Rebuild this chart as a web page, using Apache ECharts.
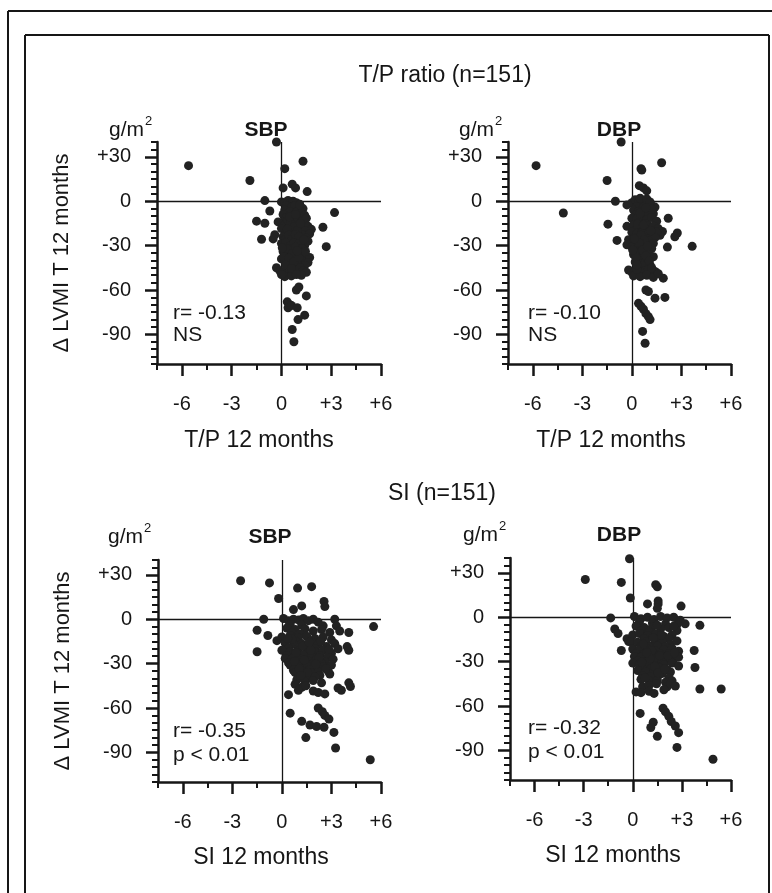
<!DOCTYPE html>
<html>
<head>
<meta charset="utf-8">
<script src="https://cdn.jsdelivr.net/npm/echarts@6/dist/echarts.min.js"></script>
<style>
  html, body { margin: 0; padding: 0; background: #fff; }
  #chart { width: 772px; height: 893px; }
</style>
</head>
<body>
<div id="chart"></div>
<script>
// Change in LVMI (g/m2) over 12 months against change in T/P ratio and SI
// Each entry: [x change, delta LVMI]

const tpSbp = [
  [-5.6,24],[-1.9,14],[-0.3,40],[1.3,27],[0.2,22],[0.1,9],[0.65,11.5],[0.85,9],[1.55,6.5],[-1.0,0.4],
  [-0.7,-6.6],[3.2,-7.7],[-1.5,-13.5],[-1.0,-14.9],[-1.2,-25.7],[2.5,-17.6],[2.7,-30.7],[0.9,-60],[1.05,-58],[1.5,-64],
  [0.35,-68],[0.5,-70],[0.4,-72],[0.6,-70.5],[0.95,-72],[1.4,-77],[1.0,-80],[0.65,-86.7],[0.75,-95],
  [0,-0.5],[0.2,-1],[0.4,0.5],[0.5,-1.5],[0.7,0],[0.9,-1],[1.1,-2],[0.3,-3],[0.6,-4],[1.0,-4.5],[1.3,-5],[0.8,-3],
  [0.2,-6],[0.5,-7],[0.9,-7.5],[1.2,-8],[1.4,-9.5],[0.1,-9],[0.7,-10],
  [0.3,-11],[0.6,-12],[1.0,-12.5],[1.3,-13],[1.5,-11.5],[0.1,-14],[0.8,-14.5],[-0.2,-14],
  [0.2,-16],[0.5,-17],[0.9,-16.5],[1.2,-18],[1.6,-17],[1.8,-19],[0.0,-18.5],[0.7,-19.5],[1.4,-20],
  [0.3,-21],[0.6,-22],[1.0,-21.5],[1.3,-23],[1.7,-22],[-0.4,-22.7],[0.1,-24],[0.8,-24.5],[1.5,-25],
  [0.2,-26],[0.5,-27],[0.9,-26.5],[1.2,-28],[1.6,-27],[-0.5,-25.5],[0.0,-28.5],[0.7,-29.5],[1.4,-30],
  [0.3,-31],[0.6,-32],[1.0,-31.5],[1.3,-33],[0.1,-34],[0.8,-34.5],[0.4,-35],[1.1,-35.5],
  [0.2,-36],[0.5,-37],[0.9,-37.5],[1.4,-37],[1.7,-38],[0.0,-39],[0.6,-39.5],[1.2,-40],[1.6,-41.5],
  [0.3,-41],[0.8,-42],[1.0,-43],[1.4,-43.5],[0.5,-44],
  [-0.3,-45],[-0.1,-47],[0.1,-48],[0.3,-49],[0.5,-48],[0.7,-47.5],[0.9,-46],[1.1,-45],[1.3,-47],[1.5,-48],
  [0.2,-51],[0.6,-50.5],[1.2,-50],[0.0,-49.5],
  [0.4,-13],[0.55,-15],[0.75,-17.5],[0.35,-19],[0.95,-20],[0.45,-23],[0.65,-25.5],[0.85,-22.5],[1.05,-24],[0.25,-28],
  [0.55,-30],[0.75,-28],[1.05,-29],[0.35,-32.5],[0.65,-35.5],[0.85,-31],[0.15,-37.5],[0.45,-38.5],[0.75,-41],[1.05,-38],
  [0.25,-43],[1.25,-32],[1.45,-34],[0.95,-33.5],[0.5,-10.5],[0.85,-9],[1.15,-15],[1.35,-26],[0.05,-31.5],[0.6,-45.5],
  [0.9,-49.5],[1.1,-2.5]
];

const tpDbp = [
  [-5.8,24],[-0.65,40],[1.8,26],[0.55,22],[0.6,21],[-1.5,14],[0.45,10.5],[0.7,9],[0.9,7],[-1.0,0],
  [-4.15,-8],[-1.45,-15.5],[-0.9,-26.5],[3.65,-30.5],[2.75,-21.5],[2.6,-24],[2.15,-31],[2.2,-11.5],[1.85,-20.5],[1.7,-23],
  [1.9,-52],[2.0,-65],[1.4,-65.5],[1.0,-61],[0.85,-60],[1.5,-48.5],[0.4,-69],[0.55,-71],[0.7,-73],[0.85,-76],
  [1.0,-78],[1.1,-80],[0.65,-88],[0.8,-96],
  [-0.3,-2.5],[0.0,-1],[0.2,1],[0.4,-0.5],[0.6,0.5],[0.8,-1],[1.0,-2],[1.2,-3],[1.4,-4],[0.3,-3.5],[0.7,-4],[0.5,2],[0.9,1.5],[1.1,-0.5],
  [0.1,-6],[0.4,-7],[0.7,-6.5],[1.0,-7.5],[1.3,-8.5],[0.2,-9.5],[0.6,-10],[0.9,-9],[1.2,-5.5],
  [0.0,-11.5],[0.3,-12],[0.6,-13],[0.9,-12.5],[1.2,-11],[1.5,-13.5],[0.4,-14.5],[0.8,-15],
  [-0.3,-17],[0.1,-16],[0.4,-17.5],[0.7,-18],[1.0,-16.5],[1.3,-17],[1.6,-18.5],[0.2,-19.5],[0.6,-20],[0.9,-19.5],
  [0.0,-21],[0.3,-22],[0.6,-21.5],[0.9,-23],[1.2,-22],[1.5,-21],[0.2,-24.5],[0.5,-25],[0.8,-24],[1.1,-25],[1.4,-24.5],
  [-0.2,-26],[0.1,-27],[0.4,-26.5],[0.7,-28],[1.0,-27],[1.3,-28.5],[0.2,-29.5],[0.5,-30],[0.8,-29],[-0.3,-29.5],
  [0.0,-31],[0.3,-32],[0.6,-31.5],[0.9,-33],[1.2,-32],[0.2,-34.5],[0.5,-35],[0.8,-34],[1.0,-35.5],
  [0.1,-36],[0.4,-37],[0.7,-36.5],[1.0,-38],[1.3,-37.5],[0.3,-39.5],[0.6,-40],[0.9,-39],
  [0.2,-41],[0.5,-42],[0.8,-41.5],[1.1,-43],[0.4,-44.5],[0.7,-44],
  [-0.2,-46.5],[0.0,-48],[0.2,-47],[0.4,-49],[0.6,-48],[0.8,-47],[1.0,-46],[1.2,-48],[1.4,-47.5],[0.1,-50.5],
  [0.5,-51],[0.9,-50],[1.3,-51.5],[1.6,-49],[0.3,-46],
  [0.35,-15.5],[0.55,-23],[0.75,-26],[0.45,-28],[0.65,-33],[0.85,-37],[0.25,-38],[0.15,-25.5],[0.95,-30.5],[1.15,-20],
  [0.05,-33],[0.7,-16],[0.5,-8],[0.85,-4.5],[1.05,-40.5],[0.3,-43],[1.2,-45]
];

const siSbp = [
  [0.1,40.5],[-2.5,26],[-0.75,24.5],[-0.2,14],[0.95,21],[1.8,22],[1.2,9],[0.7,6.5],[2.55,12],[2.6,8.5],
  [-1.1,0],[-1.5,-7.5],[-0.85,-11],[-1.5,-22],[5.55,-5],[4.05,-9],[3.95,-18.5],[4.05,-21],[4.05,-43],[4.15,-45.5],
  [3.4,-46.5],[3.6,-48],[0.4,-51],[0.5,-63.5],[1.2,-69],[1.7,-71.5],[2.2,-60],[2.45,-62.5],[2.6,-65],[2.85,-67.5],
  [2.1,-72.5],[2.55,-73],[1.45,-80],[3.15,-76.5],[3.25,-87],[5.35,-95],
  [0.1,0.5],[0.4,-1],[0.7,0],[1.0,-0.5],[1.3,0.5],[1.6,-1],[1.9,0],[2.2,-2],[3.2,0],[3.3,-4.5],[0.5,-3.5],[1.2,-4],[2.5,-4.5],
  [0.3,-6],[0.8,-7],[1.4,-6.5],[1.9,-8],[2.4,-7],[2.9,-9],[0.6,-9.5],[1.1,-10],[3.5,-8],
  [0.0,-12],[0.5,-11],[1.0,-12.5],[1.5,-11.5],[2.0,-13],[2.5,-12],[3.0,-14],[0.8,-14.5],[1.8,-15],[-0.3,-14.5],
  [0.2,-16],[0.7,-17],[1.2,-16.5],[1.7,-18],[2.2,-17],[2.7,-18.5],[3.2,-16.5],[0.4,-19.5],[1.0,-20],[1.5,-19.5],[2.0,-20],[3.4,-20],
  [0.0,-21],[0.5,-22],[1.0,-21.5],[1.5,-23],[2.0,-22],[2.5,-21],[3.0,-23],[0.3,-24.5],[0.8,-25],[1.3,-24],[1.8,-25],[2.3,-24.5],[2.8,-25],
  [0.2,-26.5],[0.6,-27],[1.1,-26.5],[1.6,-28],[2.1,-27],[2.6,-28.5],[3.1,-27],[0.4,-29.5],[0.9,-30],[1.4,-29],[1.9,-30],[2.4,-29.5],
  [0.5,-31],[1.0,-32],[1.5,-31.5],[2.0,-33],[2.5,-32],[3.0,-31],[0.7,-34.5],[1.2,-35],[1.7,-34],[2.2,-35.5],[2.8,-35],
  [0.8,-36],[1.3,-37],[1.8,-36.5],[2.3,-38],[2.9,-37],[1.0,-39.5],[1.5,-40],[2.0,-39],
  [0.9,-41],[1.4,-42],[1.9,-41.5],[0.8,-44],[1.2,-46],[1.0,-48],[2.4,-43],[1.9,-48.5],[2.2,-49.5],[2.6,-50.5],
  [0.6,-13.5],[1.25,-18],[1.75,-21],[2.25,-26],[1.35,-27.5],[0.85,-22.5],[1.05,-33.5],[1.55,-36],[2.05,-30.5],[0.75,-28.5],
  [1.65,-15.5],[1.15,-38],[2.65,-33.5],[0.35,-13],[2.85,-20.5],[1.45,-45],[2.35,-15]
];

const siDbp = [
  [-0.2,39.5],[-2.9,25.5],[-0.7,23.5],[-0.15,13],[1.4,22],[1.5,20.5],[1.55,11],[1.55,9],[0.9,9],[1.5,6],
  [2.95,7.5],[-1.35,-0.5],[-1.1,-8],[-0.9,-11],[-0.7,-22.5],[-0.35,-14.5],[-0.25,-16.5],[4.1,-5.5],[3.75,-22.5],[3.8,-34],
  [4.1,-48.5],[5.4,-48.5],[0.45,-65],[1.25,-71],[1.1,-74.5],[1.85,-61.5],[2.0,-64],[2.2,-67],[2.35,-70.5],[2.6,-73.5],
  [1.5,-80.5],[2.8,-78],[2.7,-88],[4.9,-96],
  [0.1,0.5],[0.5,-1],[0.9,0],[1.3,-1.5],[1.7,0.5],[2.1,-0.5],[2.5,0],[2.9,-2],[3.2,-4.5],[0.4,-3.5],[1.2,-4],[2.0,-4.5],[2.7,-5],
  [0.2,-6],[0.7,-7],[1.2,-6.5],[1.7,-8],[2.2,-7],[2.7,-9],[0.5,-9.5],[1.0,-10],[1.5,-5.5],[2.5,-6],
  [0.0,-12],[0.4,-11],[0.9,-12.5],[1.4,-11.5],[1.9,-13],[2.4,-12],[0.7,-14.5],[1.6,-15],[2.2,-14.5],
  [-0.1,-16.5],[0.3,-17],[0.8,-16.5],[1.3,-18],[1.8,-17],[2.3,-18.5],[2.7,-16],[0.5,-19.5],[1.0,-20],[1.5,-19.5],[2.0,-20],
  [0.0,-21.5],[0.4,-22],[0.9,-21.5],[1.4,-23],[1.9,-22],[2.4,-21],[2.8,-23],[0.2,-24.5],[0.7,-25],[1.2,-24],[1.7,-25],[2.2,-24.5],
  [0.1,-26.5],[0.5,-27],[1.0,-26.5],[1.5,-28],[2.0,-27],[2.5,-28.5],[0.3,-29.5],[0.8,-30],[1.3,-29],[1.8,-30],[2.3,-29.5],[2.8,-27],
  [0.0,-31],[0.4,-32],[0.9,-31.5],[1.4,-33],[1.9,-32],[2.4,-31],[2.8,-33],[0.6,-34.5],[1.1,-35],[1.6,-34],[2.1,-35.5],
  [0.3,-36],[0.8,-37],[1.3,-36.5],[1.8,-38],[2.3,-37],[0.6,-39.5],[1.1,-40],[1.6,-39],[2.2,-41],
  [0.5,-42],[1.0,-43],[1.5,-42.5],[2.0,-44],[2.4,-43],[0.6,-47],[1.0,-46],[2.1,-47],[2.3,-45],[0.2,-50.5],
  [0.5,-51],[1.0,-50],[1.3,-51.5],[1.9,-49],[2.6,-46.5],
  [0.65,-18],[1.15,-22.5],[1.65,-26],[1.05,-28],[1.35,-33.5],[0.85,-24],[1.55,-37.5],[2.15,-26],[0.55,-30.5],[1.75,-12],
  [1.25,-14],[0.75,-41],[1.95,-35],[2.55,-24],[1.45,-45]
];

// Axis ticks
const xMajorTicks = [-6, -3, 0, 3, 6];
const xMinorTicks = [-7.5, -4.5, -1.5, 1.5, 4.5];
const yMajorTicks = [-90, -60, -30, 0, 30];
const yMinorTicks = [-110, -105, -100, -95, -85, -80, -75, -70, -65, -55, -50, -45, -40, -35,
                     -25, -20, -15, -10, -5, 5, 10, 15, 20, 25, 35, 40];
const xRange = [-7.5, 6];
const yRange = [-110, 40];

// Panel texts
const sectionTitles = ['T/P ratio (n=151)', 'SI (n=151)'];
const panelTitles = ['SBP', 'DBP', 'SBP', 'DBP'];
const xAxisNames = ['T/P 12 months', 'T/P 12 months', 'SI 12 months', 'SI 12 months'];
const yAxisName = '\u0394 LVMI T 12 months';
const correlations = ['r= -0.13', 'r= -0.10', 'r= -0.35', 'r= -0.32'];
const significance = ['NS', 'NS', 'p < 0.01', 'p < 0.01'];

const FONT = "'Liberation Sans', Arial, Helvetica, sans-serif";
const INK = '#161616';

// Grid placement of the four panels
const layout = [
  { left: 157, top: 142, width: 224, height: 222 },
  { left: 508, top: 142, width: 223, height: 222 },
  { left: 158, top: 560, width: 223, height: 222 },
  { left: 510, top: 558, width: 221, height: 222 }
];
const panelData = [tpSbp, tpDbp, siSbp, siDbp];

const signed = v => (v > 0 ? '+' + v : String(v));

const grids = [], xAxes = [], yAxes = [], series = [];
layout.forEach((g, i) => {
  grids.push({ left: g.left, top: g.top, width: g.width, height: g.height, outerBoundsMode: 'none', containLabel: false });
  // main x axis: line, major ticks, labels
  xAxes.push({
    type: 'value', gridIndex: i, min: xRange[0], max: xRange[1], position: 'bottom',
    axisLine: { onZero: false, lineStyle: { color: INK, width: 2.5 } },
    axisTick: { customValues: xMajorTicks, length: 12, lineStyle: { color: INK, width: 2.5 } },
    axisLabel: { customValues: xMajorTicks, formatter: signed, margin: 30, fontSize: 20, fontFamily: FONT, color: INK },
    splitLine: { show: false }
  });
  // minor x ticks
  xAxes.push({
    type: 'value', gridIndex: i, min: xRange[0], max: xRange[1], position: 'bottom',
    axisLine: { show: false, onZero: false },
    axisTick: { customValues: xMinorTicks, length: 6, lineStyle: { color: INK, width: 2 } },
    axisLabel: { show: false }, splitLine: { show: false }
  });
  yAxes.push({
    type: 'value', gridIndex: i, min: yRange[0], max: yRange[1], position: 'left',
    axisLine: { onZero: false, lineStyle: { color: INK, width: 2.5 } },
    axisTick: { customValues: yMajorTicks, length: 12, lineStyle: { color: INK, width: 2.5 } },
    axisLabel: { customValues: yMajorTicks, formatter: signed, margin: 26, fontSize: 20, fontFamily: FONT, color: INK },
    splitLine: { show: false },
    name: (i % 2 === 0) ? yAxisName : '',
    nameLocation: 'middle', nameRotate: 90, nameGap: 84,
    nameTextStyle: { fontSize: 22, fontFamily: FONT, color: INK }
  });
  // minor y ticks
  yAxes.push({
    type: 'value', gridIndex: i, min: yRange[0], max: yRange[1], position: 'left',
    axisLine: { show: false, onZero: false },
    axisTick: { customValues: yMinorTicks, length: 6, lineStyle: { color: INK, width: 2 } },
    axisLabel: { show: false }, splitLine: { show: false }
  });
  series.push({
    type: 'scatter', xAxisIndex: 2 * i, yAxisIndex: 2 * i,
    data: panelData[i], symbolSize: 9,
    itemStyle: { color: '#222', opacity: 1 },
    silent: true, z: 3,
    markLine: {
      silent: true, symbol: ['none', 'none'], label: { show: false },
      lineStyle: { color: INK, width: 1.3, type: 'solid' },
      data: [{ yAxis: 0 }, { xAxis: 0 }],
      z: 2
    }
  });
});

function text(x, y, str, size, opts) {
  return {
    type: 'text', x: x, y: y, silent: true,
    style: Object.assign({ text: str, font: (opts && opts.bold ? 'bold ' : '') + size + 'px ' + FONT,
      fill: INK, align: 'left', verticalAlign: 'middle' }, (opts && opts.style) || {})
  };
}

const graphics = [
  // frame
  { type: 'line', shape: { x1: 8, y1: 11, x2: 772, y2: 11 }, style: { stroke: INK, lineWidth: 2 } },
  { type: 'line', shape: { x1: 8, y1: 11, x2: 8, y2: 893 }, style: { stroke: INK, lineWidth: 2 } },
  { type: 'line', shape: { x1: 25, y1: 35, x2: 769, y2: 35 }, style: { stroke: INK, lineWidth: 2 } },
  { type: 'line', shape: { x1: 25, y1: 35, x2: 25, y2: 893 }, style: { stroke: INK, lineWidth: 2 } },
  { type: 'line', shape: { x1: 769, y1: 35, x2: 769, y2: 893 }, style: { stroke: INK, lineWidth: 2 } }
];

// section headings
graphics.push(text(445, 76, sectionTitles[0], 23, { style: { align: 'center' } }));
graphics.push(text(442, 494, sectionTitles[1], 23, { style: { align: 'center' } }));

const headRows = [130, 130, 537, 535];
const titleX = [266, 619, 270, 619];
const unitX = [109, 459, 108, 463];
const noteX = [173, 528, 173, 528];
const noteY = [[313, 335], [313, 335], [731, 755], [728, 752]];
const xNameX = [259, 611, 261, 613];
const xNameY = [441, 441, 858, 856];

for (let i = 0; i < 4; i++) {
  graphics.push(text(titleX[i], headRows[i], panelTitles[i], 21, { bold: true, style: { align: 'center' } }));
  graphics.push(text(unitX[i], headRows[i], 'g/m', 21));
  graphics.push(text(unitX[i] + 36, headRows[i] - 9, '2', 13));
  graphics.push(text(noteX[i], noteY[i][0], correlations[i], 21));
  graphics.push(text(noteX[i], noteY[i][1], significance[i], 21));
  graphics.push(text(xNameX[i], xNameY[i], xAxisNames[i], 23, { style: { align: 'center' } }));
}

const chart = echarts.init(document.getElementById('chart'), null, { renderer: 'canvas' });
chart.setOption({
  backgroundColor: '#fff',
  animation: false,
  grid: grids,
  xAxis: xAxes,
  yAxis: yAxes,
  series: series,
  graphic: graphics
});
</script>
</body>
</html>
